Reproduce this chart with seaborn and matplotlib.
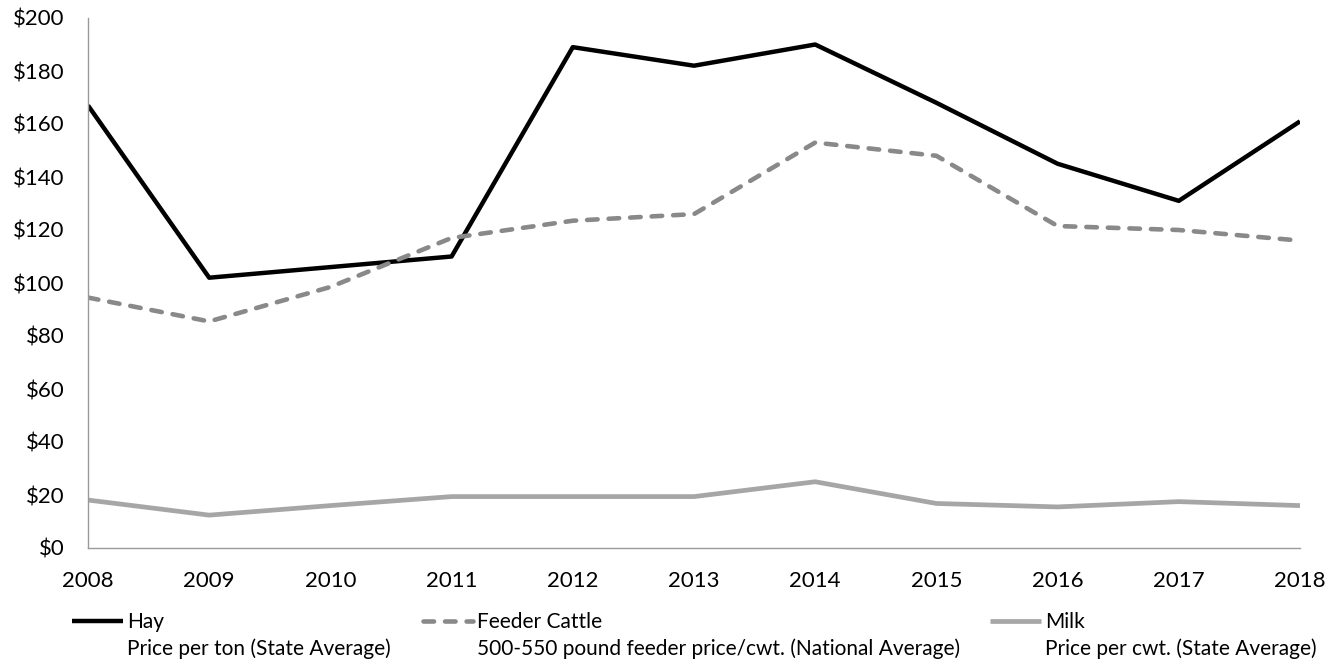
import matplotlib
matplotlib.use("Agg")
import matplotlib.pyplot as plt
import seaborn as sns
import pandas as pd

# Prices by year
years = [2008, 2009, 2010, 2011, 2012, 2013, 2014, 2015, 2016, 2017, 2018]
hay = [167, 102, 106, 110, 189, 182, 190, 168, 145, 131, 161]
feeder_cattle = [94.5, 85.5, 98.5, 117, 123.5, 126, 153, 148, 121.5, 120, 116]
milk = [18.1, 12.4, 16.0, 19.4, 19.4, 19.4, 25.0, 16.8, 15.5, 17.5, 16.0]

series_names = ["Hay", "Feeder Cattle", "Milk"]
series_notes = [
    "Price per ton (State Average)",
    "500-550 pound feeder price/cwt. (National Average)",
    "Price per cwt. (State Average)",
]
y_ticks = [0, 20, 40, 60, 80, 100, 120, 140, 160, 180, 200]
y_tick_labels = ["$" + str(v) for v in y_ticks]

df = pd.DataFrame({
    "year": years * 3,
    "price": hay + feeder_cattle + milk,
    "series": [s for s in series_names for _ in years],
})

sns.set_theme(style="white")
plt.rcParams["font.family"] = ["Lato", "DejaVu Sans"]

W, H = 1341, 666
fig = plt.figure(figsize=(W / 100, H / 100), dpi=100)
ax = fig.add_axes([88 / W, 1 - 548 / H, (1300 - 88) / W, (548 - 18) / H])

styles = {
    "Hay": dict(color="#000000", lw=3.2, ls="-"),
    "Feeder Cattle": dict(color="#898989", lw=3.3, ls=(0, (2.3, 2.4))),
    "Milk": dict(color="#a6a6a6", lw=3.4, ls="-"),
}

lines = {}
for name in series_names:
    st = styles[name]
    sub = df[df["series"] == name]
    sns.lineplot(data=sub, x="year", y="price", ax=ax, color=st["color"],
                 linewidth=st["lw"], linestyle=st["ls"], legend=False)
    ln = ax.get_lines()[-1]
    if name == "Feeder Cattle":
        ln.set_dash_capstyle("round")
    ln.set_solid_capstyle("butt")
    lines[name] = ln

ax.set_xlim(years[0], years[-1])
ax.set_ylim(y_ticks[0], y_ticks[-1])
ax.set_xticks(years)
ax.set_xticklabels([str(y) for y in years])
ax.set_yticks(y_ticks)
ax.set_yticklabels(y_tick_labels)
ax.set_xlabel("")
ax.set_ylabel("")

for side in ["top", "right"]:
    ax.spines[side].set_visible(False)
for side in ["left", "bottom"]:
    ax.spines[side].set_color("#9a9a9a")
    ax.spines[side].set_linewidth(1.0)

ax.tick_params(axis="both", which="major", direction="out", length=5.8,
               width=1.0, color="#9a9a9a", labelsize=16, labelcolor="#000000")
ax.tick_params(axis="y", pad=11)
ax.tick_params(axis="x", pad=11)
ax.grid(False)

# Legend: one entry per series, each with a note line underneath
legend_size = 15
size_px = legend_size * 100 / 72
handle_x = [72, 423, 990]
text_x = [127, 477, 1045]
for name, note, hx, tx in zip(series_names, series_notes, handle_x, text_x):
    ln = lines[name]
    hl = (tx - 4 - hx) / size_px
    leg = fig.legend(handles=[ln], labels=[name], loc="center left",
                     bbox_to_anchor=(hx / W, 1 - 622 / H),
                     frameon=False, fontsize=legend_size, handlelength=hl,
                     handletextpad=4 / size_px, borderpad=0, borderaxespad=0)
    for t in leg.get_texts():
        t.set_color("#000000")
    fig.text(tx / W, 1 - 649 / H, note, fontsize=legend_size, color="#000000",
             ha="left", va="center")

fig.savefig("out.png", dpi=100, facecolor="white")
